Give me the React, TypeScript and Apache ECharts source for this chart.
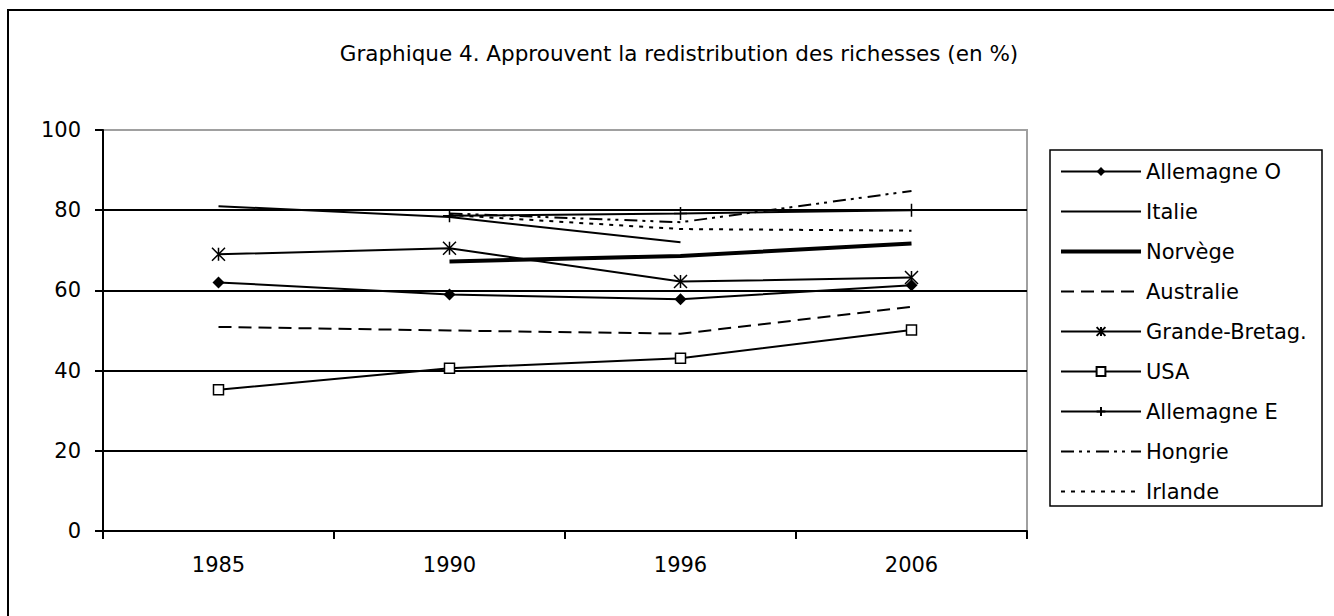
import React, { useEffect, useRef } from "react";
import * as echarts from "echarts";

const FONT = "DejaVu Sans";
const TITLE = "Graphique 4. Approuvent la redistribution des richesses (en %)";
const years = ["1985", "1990", "1996", "2006"];

const allemagneO = [62, 59, 57.8, 61.3];
const italie = [81, 78.3, 72, null];
const norvege = [null, 67.2, 68.6, 71.7];
const australie = [50.9, 50, 49.2, 55.9];
const grandeBretagne = [69, 70.5, 62.2, 63.2];
const usa = [35.2, 40.6, 43.1, 50.1];
const allemagneE = [null, 78.6, 79.2, 80];
const hongrie = [null, 79.2, 77, 84.8];
const irlande = [null, 78.8, 75.3, 74.9];

const names = [
  "Allemagne O",
  "Italie",
  "Norvège",
  "Australie",
  "Grande-Bretag.",
  "USA",
  "Allemagne E",
  "Hongrie",
  "Irlande",
];

const ASTERISK = "path://M0,0L10,10M10,0L0,10M5,0L5,10";
const PLUS = "path://M5,0L5,10M0,5L10,5";

export default function App() {
  const ref = useRef<HTMLDivElement>(null);
  useEffect(() => {
    if (!ref.current) return;
    const chart = echarts.init(ref.current, null, { renderer: "svg" });
    const base = (name: string, data: any[], extra: any) => ({
      name,
      type: "line",
      data,
      connectNulls: false,
      color: "#000",
      lineStyle: { color: "#000", width: 2, ...(extra.lineStyle || {}) },
      symbol: extra.symbol || "none",
      symbolSize: extra.symbolSize || 10,
      showSymbol: !!extra.symbol,
      itemStyle: extra.itemStyle || { color: "#000" },
      z: extra.z || 2,
    });
    const series = [
      base(names[0], allemagneO, { symbol: "diamond", symbolSize: 12, itemStyle: { color: "#000" } }),
      base(names[1], italie, {}),
      base(names[2], norvege, { lineStyle: { width: 4 } }),
      base(names[3], australie, { lineStyle: { type: [13, 7] } }),
      base(names[4], grandeBretagne, {
        symbol: ASTERISK,
        symbolSize: 13,
        itemStyle: { color: "#000", borderColor: "#000", borderWidth: 1.5 },
      }),
      base(names[5], usa, {
        symbol: "rect",
        symbolSize: 10,
        itemStyle: { color: "#fff", borderColor: "#000", borderWidth: 1.5 },
        z: 3,
      }),
      base(names[6], allemagneE, {
        symbol: PLUS,
        symbolSize: 13,
        itemStyle: { color: "#000", borderColor: "#000", borderWidth: 1.5 },
      }),
      base(names[7], hongrie, { lineStyle: { type: [13, 5, 3, 5, 3, 6] } }),
      base(names[8], irlande, { lineStyle: { type: [4, 6] } }),
    ];
    const hide = { color: "transparent", borderWidth: 0, borderColor: "transparent" };
    const legendData = names.map((n, i) => {
      const noSym = [1, 2, 3, 7, 8].includes(i);
      const item: any = { name: n };
      if (noSym) item.itemStyle = hide;
      if (i === 2) item.lineStyle = { width: 4 };
      else item.lineStyle = { width: 2 };
      return item;
    });
    chart.setOption({
      animation: false,
      backgroundColor: "#fff",
      title: {
        text: TITLE,
        left: 674,
        top: 37,
        textAlign: "center",
        textStyle: { fontFamily: FONT, fontSize: 21.5, fontWeight: "normal", color: "#000" },
      },
      legend: {
        orient: "vertical",
        left: 1059,
        top: 161,
        padding: 0,
        itemWidth: 80,
        itemHeight: 11,
        itemGap: 19,
        selectedMode: false,
        textStyle: { fontFamily: FONT, fontSize: 21, color: "#000" },
        data: legendData,
      },
      grid: {
        left: 103,
        right: 307,
        top: 130,
        bottom: 85,
        show: true,
        borderColor: "#a0a0a0",
        borderWidth: 2,
        backgroundColor: "transparent",
      },
      xAxis: {
        type: "category",
        data: years,
        boundaryGap: true,
        axisLine: { lineStyle: { color: "#000", width: 2 } },
        axisTick: { show: true, length: 8, lineStyle: { color: "#000", width: 2 }, alignWithLabel: false },
        axisLabel: { fontFamily: FONT, fontSize: 21, color: "#000", margin: 23 },
        splitLine: { show: false },
      },
      yAxis: {
        type: "value",
        min: 0,
        max: 100,
        interval: 20,
        axisLine: { show: true, lineStyle: { color: "#000", width: 2 } },
        axisTick: { show: true, length: 8, lineStyle: { color: "#000", width: 2 } },
        axisLabel: { fontFamily: FONT, fontSize: 21, color: "#000", margin: 22 },
        splitLine: {
          show: true,
          lineStyle: { color: ["#000", "#000", "#000", "#000", "#000", "#a0a0a0"], width: 2 },
        },
      },
      graphic: [
        {
          type: "rect",
          shape: { x: 8, y: 10, width: 1400, height: 700 },
          style: { fill: "none", stroke: "#000", lineWidth: 2 },
          silent: true,
        },
        {
          type: "rect",
          shape: { x: 1050, y: 150, width: 272, height: 356 },
          style: { fill: "none", stroke: "#000", lineWidth: 1.5 },
          silent: true,
        },
      ],
      series,
    });
    return () => chart.dispose();
  }, []);
  return (
    <div
      ref={ref}
      style={{ position: "fixed", left: 0, top: 0, width: 1334, height: 616, background: "#fff" }}
    />
  );
}
